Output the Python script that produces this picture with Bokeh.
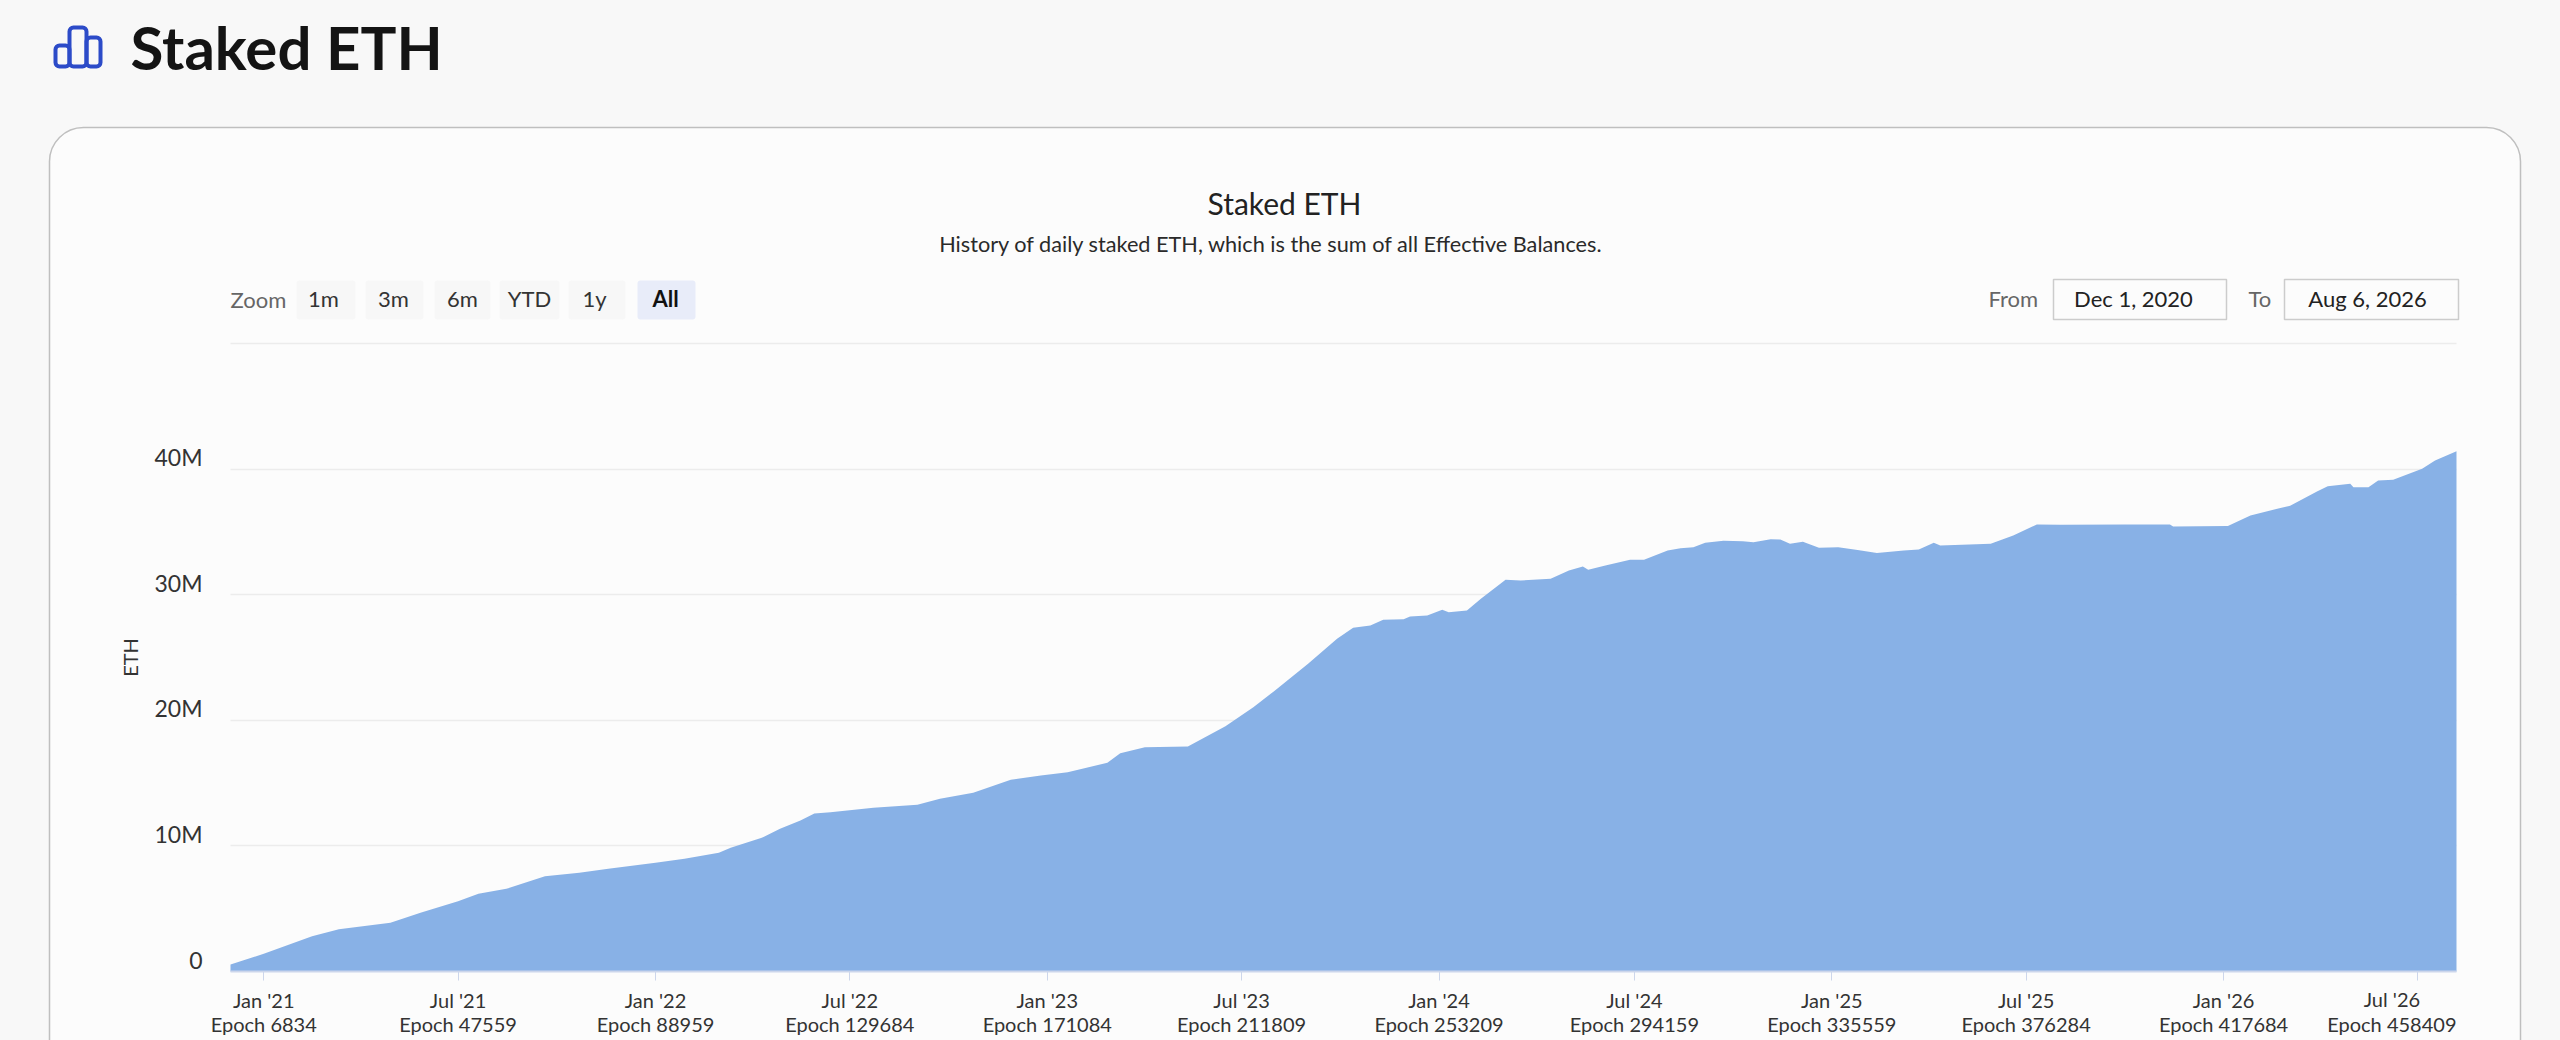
import pandas as pd
from bokeh.embed import file_html
from bokeh.resources import INLINE
from bokeh.plotting import figure
from bokeh.models import (BoxAnnotation, Label, LinearAxis, DatetimeAxis, Range1d, FixedTicker, Grid,
                          GlobalInlineStyleSheet)

# ---------- data ----------
dates = ["2020-12-01","2021-01-01","2021-02-15","2021-03-12","2021-04-29","2021-05-27","2021-07-01","2021-07-20",
         "2021-08-15","2021-09-20","2021-10-22","2021-11-18","2022-01-01","2022-01-28","2022-03-01","2022-03-12",
         "2022-04-10","2022-04-27","2022-05-16","2022-05-29","2022-06-13","2022-07-23","2022-09-02","2022-09-23",
         "2022-10-24","2022-11-28","2022-12-26","2023-01-20","2023-02-26","2023-03-10","2023-04-02","2023-05-12",
         "2023-06-16","2023-07-12","2023-07-31","2023-09-01","2023-09-28","2023-10-13","2023-10-29","2023-11-10",
         "2023-11-29","2023-12-05","2023-12-21","2024-01-04","2024-01-10","2024-01-27","2024-02-09","2024-03-03",
         "2024-03-17","2024-04-14","2024-05-01","2024-05-14","2024-05-19","2024-06-04","2024-06-27","2024-07-10",
         "2024-08-01","2024-08-13","2024-08-25","2024-09-05","2024-09-22","2024-10-10","2024-10-20","2024-11-05",
         "2024-11-14","2024-11-23","2024-12-05","2024-12-20","2025-01-07","2025-01-25","2025-02-12","2025-03-09",
         "2025-03-23","2025-04-06","2025-04-12","2025-05-29","2025-06-19","2025-07-11","2025-08-02","2025-10-03",
         "2025-11-12","2025-11-15","2026-01-05","2026-01-26","2026-02-20","2026-03-04","2026-03-29","2026-04-08",
         "2026-04-29","2026-05-02","2026-05-16","2026-05-25","2026-06-08","2026-07-05","2026-07-17","2026-08-06"]
staked_m = [0.56,1.41,2.81,3.37,3.88,4.67,5.60,6.19,
            6.58,7.59,7.86,8.18,8.65,8.97,9.45,9.85,
            10.64,11.36,12.02,12.58,12.68,13.03,13.27,13.75,
            14.23,15.26,15.60,15.87,16.62,17.38,17.86,17.91,
            19.53,21.04,22.30,24.50,26.49,27.37,27.55,28.00,
            28.05,28.26,28.34,28.80,28.61,28.74,29.67,31.19,
            31.13,31.27,31.93,32.25,31.98,32.32,32.78,32.78,
            33.52,33.70,33.78,34.13,34.29,34.26,34.18,34.42,
            34.40,34.05,34.21,33.73,33.78,33.55,33.33,33.52,
            33.60,34.13,33.92,34.05,34.71,35.59,35.57,35.59,
            35.59,35.43,35.46,36.31,36.84,37.08,38.22,38.64,
            38.83,38.56,38.56,39.09,39.15,40.03,40.69,41.43]

tick_dates = ["2021-01-01","2021-07-01","2022-01-01","2022-07-01","2023-01-01","2023-07-01",
              "2024-01-01","2024-07-01","2025-01-01","2025-07-01","2026-01-01","2026-07-01"]
tick_months = ["Jan '21","Jul '21","Jan '22","Jul '22","Jan '23","Jul '23",
               "Jan '24","Jul '24","Jan '25","Jul '25","Jan '26","Jul '26"]
tick_epochs = ["Epoch 6834","Epoch 47559","Epoch 88959","Epoch 129684","Epoch 171084","Epoch 211809",
               "Epoch 253209","Epoch 294159","Epoch 335559","Epoch 376284","Epoch 417684","Epoch 458409"]
y_ticks_m = [0, 10, 20, 30, 40]
y_labels = ["0", "10M", "20M", "30M", "40M"]
grid_m = [10, 20, 30, 40, 50]
zoom_buttons = ["1m", "3m", "6m", "YTD", "1y", "All"]

# ---------- styling ----------
FONT = "Lato"
PAGE = "#f8f8f8"; CARD = "#fcfcfc"; FILL = "#88b1e6"; BLUE = "#2c4bc8"; AXIS = "#ccd6eb"
W, H = 2560, 1040
L, R, T, B = 230, 2456, 343, 971

x = pd.to_datetime(dates)
y = [v * 1e6 for v in staked_m]
ymax = 50e6

# The frame fills the whole page, so that the header and card are not clipped;
# the ranges are widened so that the plot area lands where it does in the reference.
t0 = pd.Timestamp(dates[0]).timestamp() * 1000
t1 = pd.Timestamp(dates[-1]).timestamp() * 1000
ms_per_px = (t1 - t0) / (R - L)
val_per_px = ymax / (B - T)
xr = Range1d(t0 - L * ms_per_px, t1 + (W - R) * ms_per_px)
yr = Range1d(-(H - B) * val_per_px, ymax + T * val_per_px)

p = figure(width=W, height=H, output_backend="svg", toolbar_location=None,
           x_range=xr, y_range=yr, x_axis_location=None, y_axis_location=None,
           min_border=0, border_fill_color=PAGE, background_fill_color=PAGE)
p.outline_line_color = None
p.stylesheets = [GlobalInlineStyleSheet(css=f"html,body{{margin:0;padding:0;background:{PAGE};overflow:hidden}}")]

# card and chrome
def box(l, r, t, b, fill=None, line=None, lw=1, radius=0, level="underlay"):
    p.add_layout(BoxAnnotation(left=l, right=r, top=t, bottom=b,
                               left_units="canvas", right_units="canvas", top_units="canvas", bottom_units="canvas",
                               fill_color=fill, fill_alpha=1 if fill else 0,
                               line_color=line, line_width=lw, line_alpha=1 if line else 0,
                               border_radius=radius, level=level, editable=False))

def text(t, px, py, size, color="#222222", align="center", style="normal"):
    p.add_layout(Label(x=px, y=py, x_units="canvas", y_units="canvas", text=t, text_font=FONT,
                       text_font_size=f"{size}px", text_color=color, text_align=align,
                       text_baseline="middle", text_font_style=style))

box(49, 2520, 127, 1100, fill=CARD, line="#bfbfbf", lw=1.5, radius=34)

# header icon
for l, r, t in [(55, 69, 45), (69, 86, 27), (86, 100, 37)]:
    box(l, r, t, 66, line=BLUE, lw=4, radius=4, level="overlay")
text("Staked ETH", 130, 46, 60, "#141414", "left", "bold")

# title block
text("Staked ETH", 1284, 202, 30, "#222222")
text("History of daily staked ETH, which is the sum of all Effective Balances.", 1271, 243, 21.7, "#2a2a2a")

# zoom row
text("Zoom", 230, 299, 22, "#666666", "left")
btn_l = [296, 365, 434, 499, 568, 637]
btn_r = [355, 423, 490, 559, 625, 695]
btn_c = [323, 393, 462, 529, 594, 665]
for lab, l, r, c in zip(zoom_buttons, btn_l, btn_r, btn_c):
    active = lab == "All"
    box(l, r, 280, 319, fill="#e8ecf9" if active else "#f7f7f7", radius=3)
    text(lab, c, 298, 22, "#111111" if active else "#333333", style="bold" if active else "normal")

# date inputs
text("From", 1988, 298, 22, "#666666", "left")
box(2053, 2226, 279, 319, fill=CARD, line="#cccccc", lw=1.5)
text("Dec 1, 2020", 2133, 298, 22, "#222222")
text("To", 2248, 298, 22, "#666666", "left")
box(2284, 2458, 279, 319, fill=CARD, line="#cccccc", lw=1.5)
text("Aug 6, 2026", 2367, 298, 22, "#222222")

# grid and area
p.xgrid.visible = False
p.ygrid.visible = False
p.add_layout(Grid(dimension=1, ticker=FixedTicker(ticks=[v * 1e6 for v in grid_m]), cross_bounds=(t0, t1),
                  grid_line_color="#ececec", grid_line_width=1.5, level="underlay"))
p.varea(x=x, y1=0, y2=y, fill_color=FILL, fill_alpha=1)

# x axis
tick_ms = [int(pd.Timestamp(d).timestamp() * 1000) for d in tick_dates]
overrides = {ms: f"{m}\n{e}" for ms, m, e in zip(tick_ms, tick_months, tick_epochs)}
overrides[tick_ms[-1]] = " "
xa = DatetimeAxis(fixed_location=0, bounds=(t0, t1), ticker=FixedTicker(ticks=tick_ms),
                  major_label_overrides=overrides, major_tick_in=0, major_tick_out=9,
                  minor_tick_line_color=None, major_tick_line_color=AXIS,
                  axis_line_color=AXIS, axis_line_width=2, major_label_standoff=7,
                  major_label_text_font=FONT, major_label_text_font_size="20px",
                  major_label_text_line_height=1.04, major_label_text_color="#333333")
p.add_layout(xa, "below")

# the last tick's label is pushed left to stay inside the plot
for t, py in [(tick_months[-1], 998), (tick_epochs[-1], 1023)]:
    p.add_layout(Label(x=tick_ms[-1], y=py, x_units="data", y_units="canvas", text=t,
                       x_offset=-26, text_font=FONT, text_font_size="20px", text_color="#333333",
                       text_align="center", text_baseline="middle"))

# y axis labels sit above their gridlines, so they use a shifted range
shift = 12 * val_per_px
p.extra_y_ranges = {"labels": Range1d(yr.start - shift, yr.end - shift)}
ya = LinearAxis(y_range_name="labels", fixed_location=t0, ticker=FixedTicker(ticks=[v * 1e6 for v in y_ticks_m]),
                major_label_overrides={v * 1000000: s for v, s in zip(y_ticks_m, y_labels)},
                major_label_standoff=28, major_tick_line_color=None, minor_tick_line_color=None,
                axis_line_color=None, major_label_text_font=FONT, major_label_text_font_size="23px",
                major_label_text_color="#333333", major_tick_in=0, major_tick_out=0)
p.add_layout(ya, "left")

p.add_layout(Label(x=129, y=657, x_units="canvas", y_units="canvas", text="ETH", angle=90, angle_units="deg",
                   text_font=FONT, text_font_size="20px", text_color="#333333",
                   text_align="center", text_baseline="middle"))

open("out.html", "w").write(file_html(p, INLINE))
